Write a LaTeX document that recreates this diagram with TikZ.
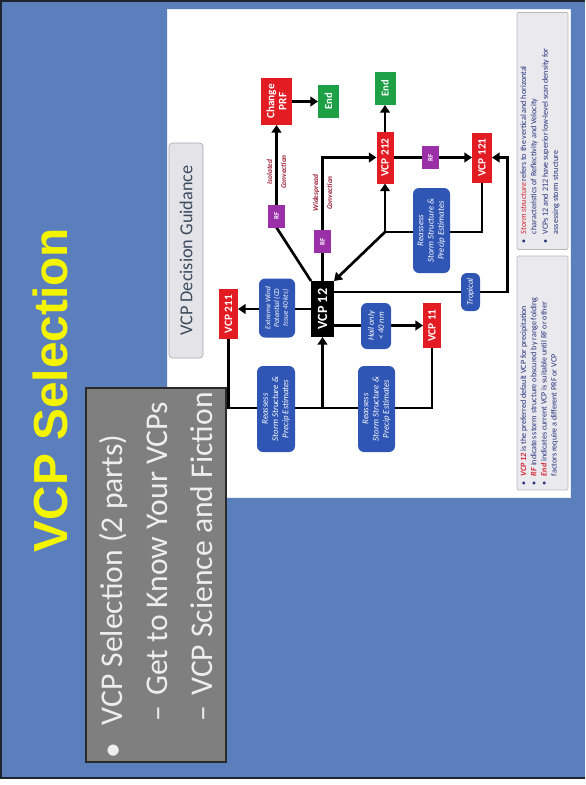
\documentclass[tikz,border=0pt]{standalone}
\usepackage{fontspec}
\setmainfont{Carlito}
\newfontfamily\titlefont{Liberation Sans}
\usetikzlibrary{arrows.meta}
\pgfdeclarelayer{back}
\pgfdeclarelayer{edges}
\pgfsetlayers{back,edges,main}

\definecolor{slideblue}{HTML}{5B7FBC}
\definecolor{slideframe}{HTML}{1E2430}
\definecolor{panelgray}{HTML}{7F7F7F}
\definecolor{panelline}{HTML}{2A2A2A}
\definecolor{bodytext}{HTML}{EEEEEE}
\definecolor{titleyellow}{HTML}{F4F400}
\definecolor{vred}{HTML}{E31B23}
\definecolor{vgreen}{HTML}{1EA047}
\definecolor{vpurple}{HTML}{9A2FA8}
\definecolor{vblue}{HTML}{2F55B5}
\definecolor{notenavy}{HTML}{26307A}
\definecolor{notered}{HTML}{D42030}
\definecolor{labelred}{HTML}{9A1F35}
\definecolor{notefill}{HTML}{E9E9EE}
\definecolor{noteline}{HTML}{B8B8C0}
\definecolor{guidefill}{HTML}{E4E4E8}
\definecolor{guideline}{HTML}{A8A8B0}
\definecolor{guidetext}{HTML}{3C4A5E}

\tikzset{
  px/.style 2 args={minimum width=#1*0.05cm, minimum height=#2*0.05cm},
  rot/.style={rotate=90, inner sep=0pt, outer sep=0pt, align=center},
  redbox/.style={rot, fill=vred, text=white, font=\bfseries\fontsize{16}{17}\selectfont},
  greenbox/.style={rot, fill=vgreen, text=white, font=\bfseries\fontsize{15}{16}\selectfont},
  rfbox/.style={rot, fill=vpurple, text=white, font=\bfseries\fontsize{10}{11}\selectfont, px={23}{17}},
  bluebox/.style={rot, fill=vblue, text=white, rounded corners=0.3cm, font=\itshape\fontsize{12.5}{14.5}\selectfont},
  flow/.style={line width=3.8pt, draw=black, line join=miter},
  arr/.style={flow, -{Triangle[length=11pt,width=14pt]}},
  cond/.style={rot, text=labelred, font=\bfseries\itshape\fontsize{10.5}{20}\selectfont},
  note/.style={rot, fill=notefill, draw=noteline, line width=1pt, rounded corners=2pt},
  notetext/.style={rot, anchor=north west, text=notenavy, font=\fontsize{11.5}{14.5}\selectfont, align=left},
}
\newcommand{\kwd}[1]{\textcolor{notered}{\bfseries\itshape #1}}

\begin{document}
\begin{tikzpicture}[x=0.05cm, y=-0.05cm]
\useasboundingbox (0,0) rectangle (585,785);

% slide background, frame and the white chart panel
\begin{pgfonlayer}{back}
  \fill[white] (0,0) rectangle (585,785);
  \fill[slideblue] (0,0) rectangle (585,779);
  \draw[slideframe, line width=4pt] (585,1) -- (1,1) -- (1,778) -- (585,778);
  \fill[white] (167,9) rectangle (570,497);
  \draw[white!85!slideblue, line width=1pt] (167,9) rectangle (570,497);
\end{pgfonlayer}

% slide title
\node[rot, text=titleyellow, font=\titlefont\bfseries\fontsize{68}{70}\selectfont] (title) at (50,390) {VCP Selection};

% bullet box
\fill[panelgray, draw=panelline, line width=2pt] (86,388) rectangle (226,762);
\node[rot, anchor=north west, text=bodytext, font=\fontsize{45}{64}\selectfont, align=left] (bullets) at (91.5,758)
  {\begin{tabular}{@{}l@{\hspace{24pt}}l@{}}
   \textbullet & VCP Selection (2 parts)\\
   & \hspace{6pt}–\hspace{14pt}Get to Know Your VCPs\\
   & \hspace{6pt}–\hspace{14pt}VCP Science and Fiction
   \end{tabular}};

% chart heading
\node[rot, px={215}{34}, fill=guidefill, draw=guideline, line width=1pt, rounded corners=5pt,
      text=guidetext, font=\fontsize{26}{28}\selectfont] (guide) at (186,250.5) {VCP Decision Guidance};

% decision boxes
\node[redbox, px={47}{31}] (cprf) at (276.5,101.5) {Change\\PRF};
\node[greenbox, px={33}{21}] (endA) at (328.5,101.5) {End};
\node[greenbox, px={33}{21}] (endB) at (385,88.5) {End};
\node[redbox, px={52}{17}] (v212) at (385,157.5) {VCP 212};
\node[redbox, px={50}{20}] (v121) at (482,157.5) {VCP 121};
\node[rfbox] (rfC) at (430.5,157.5) {RF};
\node[rfbox] (rfA) at (276.5,216) {RF};
\node[rfbox] (rfB) at (322.5,241.5) {RF};
\node[bluebox, px={85}{37}] (reasC) at (431.5,230.5) {Reassess\\Storm Structure \&\\Precip Estimates};
\node[rot, fill=black, text=white, font=\bfseries\fontsize{20}{22}\selectfont, px={56}{23}] (v12) at (322.5,309) {VCP 12};
\node[bluebox, px={59}{36}, font=\itshape\fontsize{10.5}{12.5}\selectfont] (wind) at (277,308) {Extreme Wind\\Potential (CD\\Issue 40 kts)};
\node[redbox, px={50}{19}] (v211) at (228.5,314) {VCP 211};
\node[bluebox, px={46}{30}, font=\itshape\fontsize{12}{14.5}\selectfont] (hail) at (376,326) {Hail only\\< 40 nm};
\node[redbox, px={45}{18}] (v11) at (432,325.5) {VCP 11};
\node[bluebox, px={38}{19}, font=\itshape\fontsize{12}{14}\selectfont] (trop) at (470.5,292) {Tropical};
\node[bluebox, px={86}{38}] (reasA) at (276,409) {Reassess\\Storm Structure \&\\Precip Estimates};
\node[bluebox, px={86}{37}] (reasB) at (376.5,409) {Reassess\\Storm Structure \&\\Precip Estimates};

% branch labels
\node[cond] (isoLbl) at (276.5,172) {Isolated\\Convection};
\node[cond] (wideLbl) at (322.5,193) {Widespread\\Convection};

% junction points
\coordinate (jTop) at (385,232);
\coordinate (jBot) at (322.5,408);

% connectors
\begin{pgfonlayer}{edges}
  \draw[arr] (cprf) -- (endA);
  \draw[arr] (v212) -- (endB);
  \draw[flow] (v212) -- (rfC);
  \draw[arr] (rfC) -- (v121);
  \draw[arr] (rfA) -- (cprf);
  \draw[flow] (v12.north east) -- (rfA.west);
  \draw[flow] (v12) -- (rfB);
  \draw[arr] (rfB.east) |- (v212.north);
  \draw[arr] (jTop) -- (v212.west);
  \draw[arr] (jTop) -- (v12.south east);
  \draw[flow] (jTop) -| (v121.west);
  \draw[arr] (v12.south |- v11) -- (v11.north);
  \draw[arr] (v12.north) -- (v12.north -| v211.south);
  \draw[arr] (v12.south |- trop) -- ++(173.5,0) |- (v121.south);
  \draw[flow] (v211.west) |- (jBot) -| (v11.west);
  \draw[arr] (jBot) -- (v12.west);
\end{pgfonlayer}

% notes
\node[note, px={237}{51}] (noteA) at (542.5,131) {};
\node[notetext] (noteAtxt) at (519,243)
  {\begin{tabular}{@{}l@{\hspace{7pt}}l@{}}
   \textbullet & \textcolor{notered}{\itshape Storm structure} refers to the vertical and horizontal\\
   & characteristics of Reflectivity and Velocity\\[2pt]
   \textbullet & VCPs 12 and 212 have superior low-level scan density for\\
   & assessing storm structure
   \end{tabular}};
\node[note, px={234}{51}] (noteB) at (542.5,373) {};
\node[notetext] (noteBtxt) at (519,485)
  {\begin{tabular}{@{}l@{\hspace{7pt}}l@{}}
   \textbullet & \kwd{VCP 12} is the preferred default VCP for precipitation\\
   \textbullet & \kwd{RF} indicates storm structure obscured by range folding\\
   \textbullet & \kwd{End} indicates current VCP is suitable until RF or other\\
   & factors require a different PRF or VCP
   \end{tabular}};
\end{tikzpicture}
\end{document}
